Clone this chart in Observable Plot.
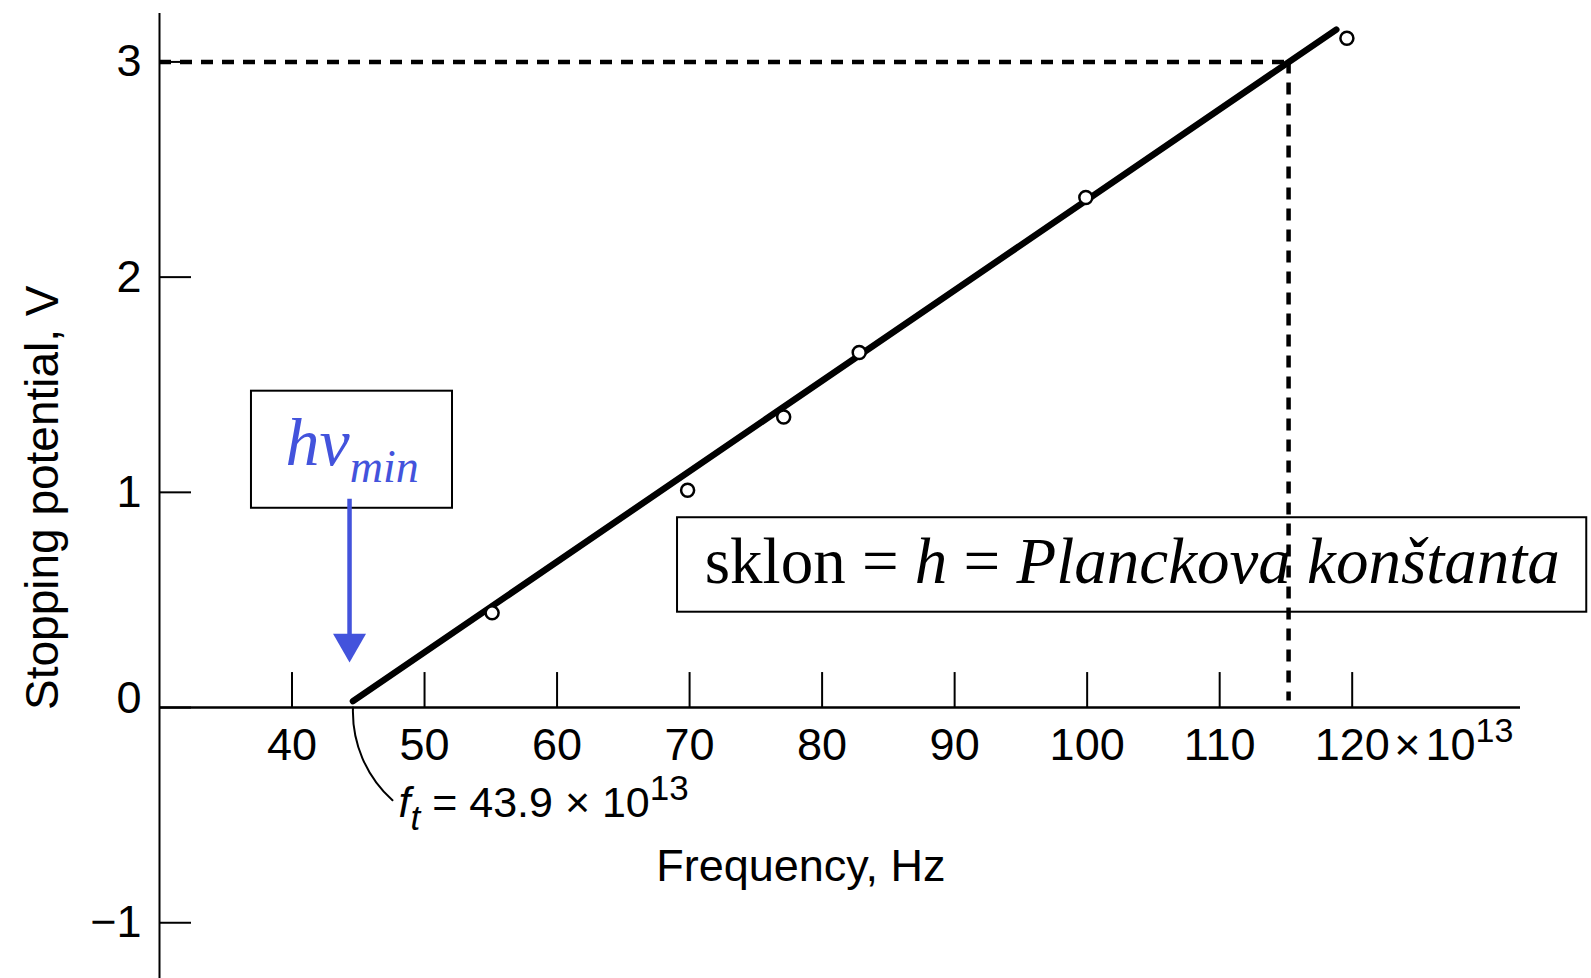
<!DOCTYPE html>
<html>
<head>
<meta charset="utf-8">
<script src="https://cdn.jsdelivr.net/npm/d3@7"></script>
<script src="https://cdn.jsdelivr.net/npm/@observablehq/plot@0.6"></script>
<style>
  html, body { margin: 0; padding: 0; background: #fff; overflow: hidden; }
  svg text { white-space: pre; }
</style>
</head>
<body>
<div id="chart"></div>
<script>
// ---------- data (frequency in 10^13 Hz, stopping potential in V) ----------
const pointFreq = [55.1, 69.85, 77.1, 82.8, 99.9, 119.6];
const pointVolt = [0.44, 1.01, 1.35, 1.65, 2.37, 3.11];
const fitFreq = [44.6, 118.8];
const fitVolt = [0.03, 3.15];
const thresholdFreq = 43.9;
const readFreq = 115.2;      // frequency where fit line reaches 3 V
const readVolt = 3;
const xTicks = [40, 50, 60, 70, 80, 90, 100, 110, 120];
const yTicks = [-1, 1, 2, 3];
const yZeroTick = [0];
const xDomain = [30, 132.7];
const yDomain = [-1.259, 3.225];

// texts
const xTitle = "Frequency, Hz";
const yTitle = "Stopping potential, V";
const xSuffix = "×10" + "13";
const ftText = "ft = 43.9 × 10" + "13";
const hvText = "hv" + "min";
const slopeText = "sklon = h = Planckova konštanta";

// ---------- layout ----------
const W = 1591, H = 978;
const mL = 159, mR = 71, mT = 13, mB = 0;
const dataPerPxX = (xDomain[1] - xDomain[0]) / (W - mL - mR);
const dataPerPxY = (yDomain[1] - yDomain[0]) / (H - mT - mB);

// annotation anchors in data units
const ftArc = {x1: 44.6, y1: 0, x2: 47.58, y2: -0.431};
const ftAnchor = {f: 48.04, v: -0.51};
const xTitleAnchor = {f: 78.4, v: -0.807};
const yTitleAnchor = {f: 30, v: 0.975};
const hvBox = {x1: 36.94, x2: 52.11, y1: 0.926, y2: 1.47};
const hvAnchor = {f: 39.51, v: 1.126};
const arrowSpec = {f: 44.34, top: 0.968, shaftEnd: 0.3, tip: 0.21};
const slopeBox = {x1: 69.09, x2: 137.7, y1: 0.443, y2: 0.882};
const slopeAnchor = {f: 71.15, v: 0.577};

const sans = "'Liberation Sans', Arial, Helvetica, sans-serif";
const serif = "'Liberation Serif', 'Times New Roman', serif";
const blue = "#4353dc";

const points = pointFreq.map((f, i) => ({f, v: pointVolt[i]}));
const fit = fitFreq.map((f, i) => ({f, v: fitVolt[i]}));
const yFmt = d3.format("");
const allYTicks = yTicks.concat(yZeroTick);

const chart = Plot.plot({
  width: W,
  height: H,
  marginLeft: mL,
  marginRight: mR,
  marginTop: mT,
  marginBottom: mB,
  x: {domain: xDomain, axis: null},
  y: {domain: yDomain},
  style: {fontFamily: sans, fontSize: "45px", background: "white", color: "black", overflow: "visible"},
  marks: [
    // axis lines
    Plot.ruleX([xDomain[0]], {x: d => d, y1: yDomain[0], y2: yDomain[1], strokeWidth: 2}),
    Plot.ruleY([0], {y: d => d, x1: xDomain[0], x2: xDomain[1], strokeWidth: 2.5}),
    // inward ticks
    Plot.ruleX(xTicks, {x: d => d, y1: 0, y2: 35 * dataPerPxY, strokeWidth: 2}),
    Plot.ruleY(allYTicks, {y: d => d, x1: xDomain[0], x2: xDomain[0] + 32 * dataPerPxX, strokeWidth: 2}),
    // y tick labels
    Plot.axisY(yTicks, {tickSize: 0, tickPadding: 18, tickFormat: yFmt, fontSize: 45, label: null}),
    Plot.axisY(yZeroTick, {tickSize: 0, tickPadding: 18, tickFormat: yFmt, fontSize: 45, label: null, dy: -9}),
    // x tick labels along y = 0
    Plot.text(xTicks, {x: d => d, y: () => 0, text: d => String(d), lineAnchor: "top", dy: 20, fontSize: 45}),
    Plot.text([xSuffix], {x: () => xTicks[xTicks.length - 1], y: () => 0, text: d => d, textAnchor: "start", lineAnchor: "top", dx: 42, dy: 20, fontSize: 45}),
    // titles
    Plot.text([xTitle], {x: () => xTitleAnchor.f, y: () => xTitleAnchor.v, text: d => d, lineAnchor: "bottom", fontSize: 45}),
    Plot.text([yTitle], {x: () => yTitleAnchor.f, y: () => yTitleAnchor.v, text: d => d, rotate: -90, dx: -102, lineAnchor: "bottom", textAnchor: "middle", fontSize: 46}),
    // dashed read-off lines
    Plot.ruleY([readVolt], {y: d => d, x1: xDomain[0], x2: readFreq, strokeWidth: 4.5, strokeDasharray: "12,9"}),
    Plot.ruleX([readFreq], {x: d => d, y1: readVolt, y2: fitVolt[0], strokeWidth: 4.5, strokeDasharray: "12,9"}),
    // fit line
    Plot.line(fit, {x: "f", y: "v", stroke: "black", strokeWidth: 6.5}),
    // data points
    Plot.dot(points, {x: "f", y: "v", r: 6.5, stroke: "black", strokeWidth: 2.5, fill: "white"}),
    // threshold label with leader arc
    Plot.arrow([ftArc], {x1: "x1", y1: "y1", x2: "x2", y2: "y2", bend: -25, headLength: 0, strokeWidth: 2, stroke: "black"}),
    Plot.text([ftText], {x: () => ftAnchor.f, y: () => ftAnchor.v, text: d => d, textAnchor: "start", lineAnchor: "bottom", fontSize: 43}),
    // hv_min box and arrow
    Plot.rect([hvBox], {x1: "x1", x2: "x2", y1: "y1", y2: "y2", fill: "none", stroke: "black", strokeWidth: 2}),
    Plot.text([hvText], {x: () => hvAnchor.f, y: () => hvAnchor.v, text: d => d, textAnchor: "start", lineAnchor: "bottom", fontFamily: serif, fontStyle: "italic", fontSize: 68, fill: blue}),
    Plot.ruleX([arrowSpec], {x: "f", y1: "top", y2: "shaftEnd", stroke: blue, strokeWidth: 4.5}),
    Plot.dot([arrowSpec], {x: "f", y: "tip", symbol: "triangle2", r: 15.75, rotate: 180, dy: -19, fill: blue, stroke: "none"}),
    // slope box
    Plot.rect([slopeBox], {x1: "x1", x2: "x2", y1: "y1", y2: "y2", fill: "none", stroke: "black", strokeWidth: 2}),
    Plot.text([slopeText], {x: () => slopeAnchor.f, y: () => slopeAnchor.v, text: d => d, textAnchor: "start", lineAnchor: "bottom", fontFamily: serif, fontSize: 65, fill: "black"})
  ]
});

document.getElementById("chart").append(chart);

// ---------- rich text (italics, sub/superscripts) ----------
function rich(key, parts) {
  d3.select(chart).selectAll("text")
    .filter(function () { return this.textContent === key && this.childElementCount === 0; })
    .each(function () {
      const t = d3.select(this);
      t.text(null);
      for (const p of parts) {
        const s = t.append("tspan").text(p.t);
        s.attr("font-style", p.i ? "italic" : "normal");
        if (p.size) s.attr("font-size", p.size);
        if (p.dx) s.attr("dx", p.dx);
        if (p.dy) s.attr("dy", p.dy);
      }
    });
}

rich(xSuffix, [{t: "×"}, {t: "10", dx: 5}, {t: "13", size: 34, dy: -18}]);
rich(ftText, [{t: "f", i: 1}, {t: "t", i: 1, size: 35, dy: 13}, {t: " = 43.9 × 10", dy: -13}, {t: "13", size: 35, dy: -17}]);
rich(hvText, [{t: "hv", i: 1, size: 68}, {t: "min", i: 1, size: 46, dy: 17}]);
rich(slopeText, [{t: "sklon = "}, {t: "h", i: 1}, {t: " = "}, {t: "Planckova konštanta", i: 1}]);
</script>
</body>
</html>
